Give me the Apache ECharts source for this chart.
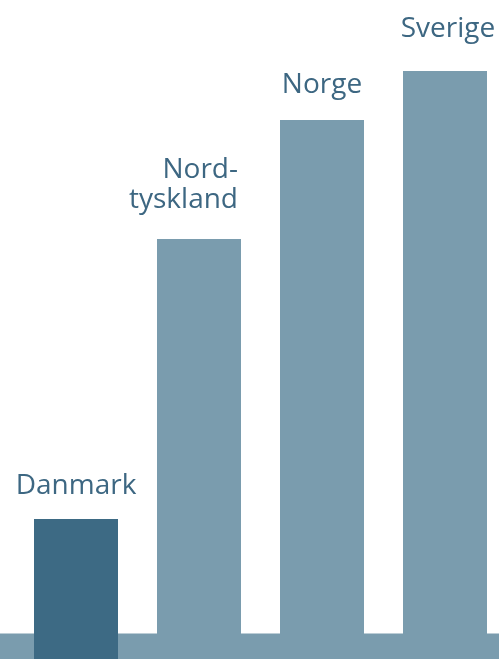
<!DOCTYPE html>
<html>
<head>
<meta charset="utf-8">
<script src="https://cdn.jsdelivr.net/npm/echarts@6/dist/echarts.min.js"></script>
<style>
  html, body { margin: 0; padding: 0; background: #ffffff; }
  #chart { width: 499px; height: 659px; }
</style>
</head>
<body>
<div id="chart"></div>
<script>
// categories and bar heights (arbitrary units)
const categories = ["Danmark", "Nord-\ntyskland", "Norge", "Sverige"];
const values = [140, 420, 539, 588];
const barColors = ["#3d6a84", "#7a9cae", "#7a9cae", "#7a9cae"];

// label placement tweaks per bar
const labelStyles = [
  { distance: 18 },
  { distance: 24, align: "right", offset: [39, 0] },
  { distance: 20 },
  { distance: 27, offset: [3, 0] }
];

var chart = echarts.init(document.getElementById("chart"));

var option = {
  animation: false,
  grid: {
    left: 14.5,
    right: -7.5,
    top: 0,
    bottom: 0,
    outerBoundsMode: "none",
    containLabel: false
  },
  xAxis: {
    type: "category",
    data: categories,
    axisLine: { show: false },
    axisTick: { show: false },
    axisLabel: { show: false }
  },
  yAxis: {
    type: "value",
    min: 0,
    max: 659,
    show: false,
    splitLine: { show: false }
  },
  series: [
    {
      type: "bar",
      barWidth: 84,
      data: values.map(function (v, i) {
        return {
          value: v,
          itemStyle: { color: barColors[i] },
          label: labelStyles[i]
        };
      }),
      label: {
        show: true,
        position: "top",
        formatter: function (p) { return p.name; },
        color: "#3d6782",
        fontFamily: "Open Sans",
        fontSize: 28,
        lineHeight: 30
      },
      markArea: {
        silent: true,
        itemStyle: { color: "#7a9cae" },
        data: [[{ yAxis: 0, x: 0 }, { yAxis: 25.5, x: 499 }]]
      },
      z: 2
    }
  ]
};

chart.setOption(option);
</script>
</body>
</html>
